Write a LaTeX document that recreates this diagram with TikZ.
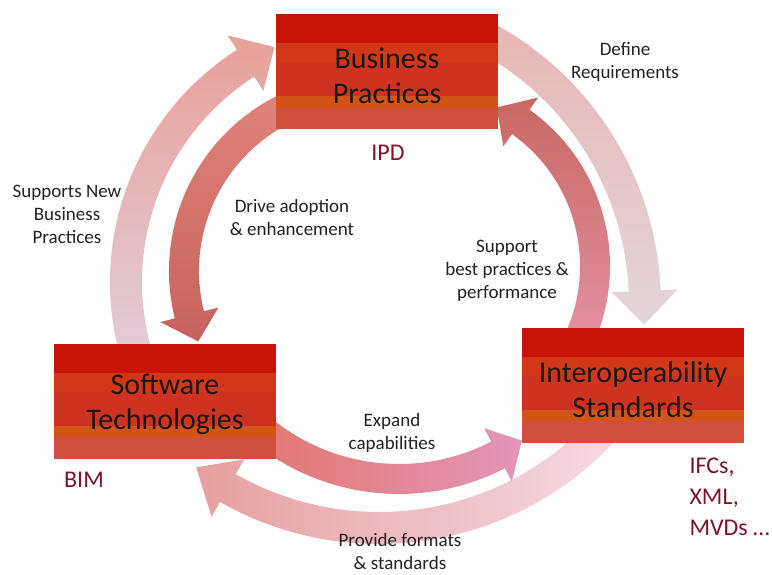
\documentclass[tikz,border=0pt]{standalone}
\usepackage{fontspec}
\setmainfont{Carlito}
\usetikzlibrary{calc}

\definecolor{bandA}{RGB}{200,20,8}
\definecolor{bandB}{RGB}{210,56,24}
\definecolor{bandC}{RGB}{206,50,32}
\definecolor{bandD}{RGB}{210,84,24}
\definecolor{bandE}{RGB}{208,80,63}
\definecolor{boxtext}{RGB}{28,24,24}
\definecolor{labtext}{RGB}{34,34,34}
\definecolor{codetext}{RGB}{122,20,45}

\tikzset{
  stripebox/.style={minimum width=222pt, minimum height=115pt, inner sep=0pt,
    path picture={
      \coordinate (pn) at (path picture bounding box.north east);
      \coordinate (pw) at (path picture bounding box.north west);
      \coordinate (ps) at (path picture bounding box.south west);
      \fill[bandE] (pn) rectangle (ps);
      \fill[bandD] (pn) rectangle ($(pw)!.81!(ps)$);
      \fill[bandC] (pn) rectangle ($(pw)!.71!(ps)$);
      \fill[bandB] (pn) rectangle ($(pw)!.42!(ps)$);
      \fill[bandA] (pn) rectangle ($(pw)!.25!(ps)$);
    }},
  boxlabel/.style={align=center, text=boxtext, font=\fontsize{30}{35}\selectfont},
  steplabel/.style={align=center, text=labtext, font=\fontsize{19}{23}\selectfont},
  codelabel/.style={text=codetext, font=\fontsize{24}{31}\selectfont, align=left}
}

\begin{document}
\begin{tikzpicture}[x=1pt, y=1pt]
  \useasboundingbox (0,0) rectangle (772,574);

  % centres of the arcs
  \coordinate (cA) at (386,292);
  \coordinate (cB) at (342,270);
  \coordinate (cC) at (379,352);
  \coordinate (cD) at (365,303);
  \coordinate (cE) at (399,311);
  \coordinate (cF) at (418,308);

  % outer ring
  \shade[top color={rgb,255:red,232;green,160;blue,155}, bottom color={rgb,255:red,226;green,204;blue,216}]
    ([shift={(195:276pt)}]cA) arc[start angle=195, end angle=122.7, radius=276pt]
    -- ([shift={(122.7:293pt)}]cA) -- ([shift={(115.4:260pt)}]cA) -- ([shift={(122.7:227pt)}]cA)
    -- ([shift={(122.7:244pt)}]cA) arc[start angle=122.7, end angle=195, radius=244pt] -- cycle;
  \shade[top color={rgb,255:red,232;green,182;blue,182}, middle color={rgb,255:red,222;green,180;blue,220}, bottom color={rgb,255:red,226;green,214;blue,218}]
    ([shift={(62:319pt)}]cB) arc[start angle=62, end angle=2.5, radius=319pt]
    -- ([shift={(2.5:336pt)}]cB) -- ([shift={(-3.9:303pt)}]cB) -- ([shift={(2.5:270pt)}]cB)
    -- ([shift={(2.5:287pt)}]cB) arc[start angle=2.5, end angle=62, radius=287pt] -- cycle;
  \shade[left color={rgb,255:red,230;green,160;blue,160}, middle color={rgb,255:red,224;green,184;blue,214}, right color={rgb,255:red,246;green,218;blue,230}]
    ([shift={(-40:322pt)}]cC) arc[start angle=-40, end angle=-119.6, radius=322pt]
    -- ([shift={(-119.6:339pt)}]cC) -- ([shift={(-126.7:306pt)}]cC) -- ([shift={(-119.6:273pt)}]cC)
    -- ([shift={(-119.6:290pt)}]cC) arc[start angle=-119.6, end angle=-40, radius=290pt] -- cycle;

  % inner ring
  \shade[top color={rgb,255:red,224;green,132;blue,122}, bottom color={rgb,255:red,198;green,98;blue,94}]
    ([shift={(110:196pt)}]cD) arc[start angle=110, end angle=194, radius=196pt]
    -- ([shift={(194:211pt)}]cD) -- ([shift={(202.9:181pt)}]cD) -- ([shift={(194:151pt)}]cD)
    -- ([shift={(194:166pt)}]cD) arc[start angle=194, end angle=110, radius=166pt] -- cycle;
  \shade[left color={rgb,255:red,226;green,118;blue,110}, right color={rgb,255:red,226;green,150;blue,186}]
    ([shift={(228:231pt)}]cE) arc[start angle=228, end angle=297.3, radius=231pt]
    -- ([shift={(297.3:246pt)}]cE) -- ([shift={(304.7:216pt)}]cE) -- ([shift={(297.3:186pt)}]cE)
    -- ([shift={(297.3:201pt)}]cE) arc[start angle=297.3, end angle=228, radius=201pt] -- cycle;
  \shade[top color={rgb,255:red,198;green,104;blue,100}, middle color={rgb,255:red,226;green,120;blue,118}, bottom color={rgb,255:red,230;green,146;blue,166}]
    ([shift={(-28:192pt)}]cF) arc[start angle=-28, end angle=54.5, radius=192pt]
    -- ([shift={(54.5:207pt)}]cF) -- ([shift={(63.6:177pt)}]cF) -- ([shift={(54.5:147pt)}]cF)
    -- ([shift={(54.5:162pt)}]cF) arc[start angle=54.5, end angle=-28, radius=162pt] -- cycle;

  % boxes
  \node[stripebox] (bp) at (387,502) {};
  \node[stripebox] (it) at (633,188.5) {};
  \node[stripebox] (sw) at (165,172.5) {};
  \node[boxlabel] (bptext) at ([yshift=-4pt]bp.center) {Business\\Practices};
  \node[boxlabel] (ittext) at ([yshift=-4pt]it.center) {Interoperability\\Standards};
  \node[boxlabel] (swtext) at ([yshift=-3pt]sw.center) {Software\\Technologies};

  % examples
  \node[codelabel] (ipd) at (388,421) {IPD};
  \node[codelabel] (bim) at (84,94) {BIM};
  \node[codelabel, anchor=west] (fmt) at (686,77) {IFCs,\\XML,\\MVDs \dots};

  % arc labels
  \node[steplabel] (lreq) at (625,512.5) {Define\\Requirements};
  \node[steplabel] (lsup) at (67,359.5) {Supports New\\Business\\Practices};
  \node[steplabel] (ldrive) at (292,356.5) {Drive adoption\\\& enhancement};
  \node[steplabel] (lbest) at (507,303.5) {Support\\best practices \&\\performance};
  \node[steplabel] (lexp) at (392,141.5) {Expand\\capabilities};
  \node[steplabel] (lprov) at (400,23) {Provide formats\\\& standards};
\end{tikzpicture}
\end{document}
